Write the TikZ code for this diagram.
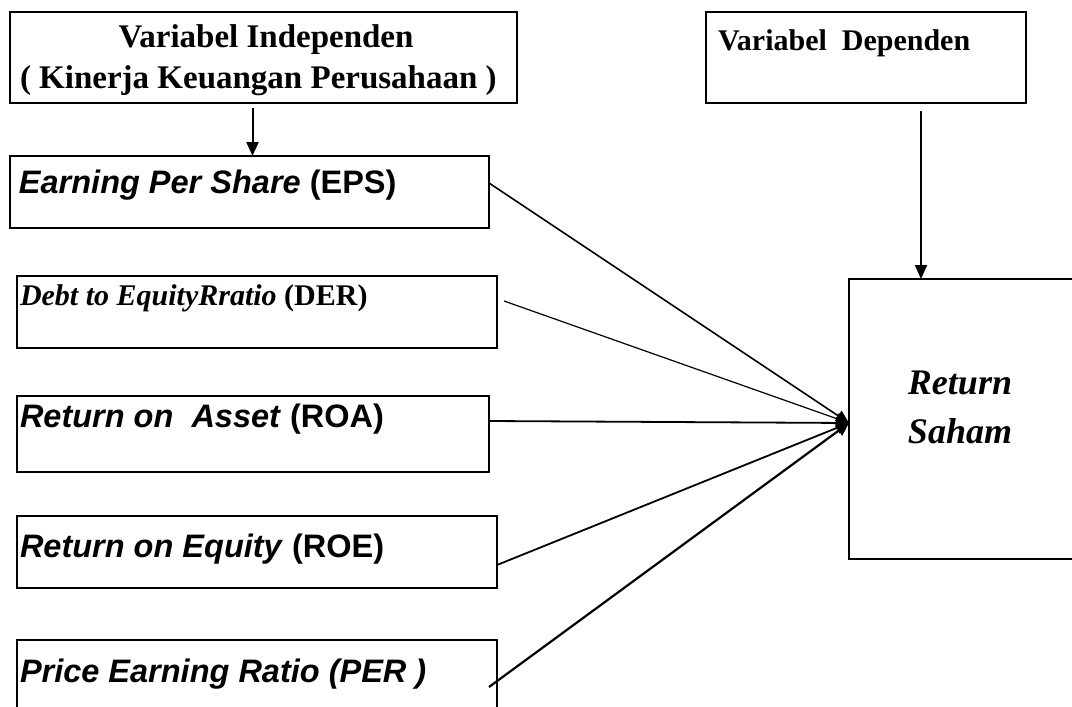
\documentclass[tikz,border=0pt]{standalone}
\usepackage{fontspec}
\setmainfont{Liberation Serif}
\newfontfamily\arialf{Liberation Sans}
\usetikzlibrary{arrows.meta}
\begin{document}
\begin{tikzpicture}[x=1pt,y=-1pt,
  box/.style={draw, line width=2pt, inner sep=0pt, outer sep=0pt, anchor=north west},
  lbl/.style={inner sep=0pt, outer sep=0pt, anchor=base west},
  seriftop/.style={font=\fontsize{33}{38}\selectfont\bfseries},
  serifdep/.style={font=\fontsize{30}{36}\selectfont\bfseries},
  serifmid/.style={font=\fontsize{30}{36}\selectfont\bfseries},
  sansbig/.style={font=\fontsize{32.5}{38}\selectfont\arialf\bfseries},
  conn/.style={line width=1.6pt, -{Triangle[length=13pt,width=12pt]}},
  vconn/.style={line width=2pt, -{Triangle[length=14pt,width=12pt]}}]
\clip (0,0) rectangle (1072,707);
% boxes
\node[box, minimum width=507pt, minimum height=91pt] (indep) at (10,12) {};
\node[box, minimum width=320pt, minimum height=91pt] (dep) at (706,12) {};
\node[box, minimum width=479pt, minimum height=72pt] (eps) at (10,156) {};
\node[box, minimum width=480pt, minimum height=72pt] (der) at (17,276) {};
\node[box, minimum width=472pt, minimum height=76pt] (roa) at (17,396) {};
\node[box, minimum width=480pt, minimum height=72pt] (roe) at (17,516) {};
\node[box, minimum width=480pt, minimum height=80pt] (per) at (17,640) {};
\node[box, minimum width=231pt, minimum height=280pt] (ret) at (849,279) {};
% texts
\node[seriftop, inner sep=0pt, anchor=base] (t1) at (266,47) {Variabel Independen};
\node[seriftop, lbl] (t2) at (20,88) {( Kinerja Keuangan Perusahaan )};
\node[serifdep, lbl] (t3) at (718,50) {Variabel\ \ Dependen};
\node[sansbig, lbl] (t4) at (19,193) {\itshape Earning Per Share\/ \upshape(EPS)};
\node[serifmid, lbl] (t5) at (20,305) {\itshape Debt to EquityRratio\/ \upshape(DER)};
\node[sansbig, lbl] (t6) at (20,427) {\itshape Return on\ \ Asset\/ \upshape(ROA)};
\node[sansbig, lbl] (t7) at (20,557) {\itshape Return on Equity\/ \upshape(ROE)};
\node[sansbig, lbl] (t8) at (20,682) {\itshape Price Earning Ratio (PER )};
\node[font=\fontsize{36}{49}\selectfont\bfseries\itshape, inner sep=0pt, align=center, anchor=base] (t9) at (960,443) {Return\\Saham};
% connectors
\coordinate (tip) at ([yshift=-4pt]ret.west);
\draw[vconn] ([xshift=-11pt,yshift=-5pt]indep.south) -- ([xshift=-11pt]indep.south |- eps.north);
\draw[vconn] ([xshift=55pt,yshift=-8pt]dep.south) -- ([xshift=55pt]dep.south |- ret.north);
\draw[conn] ([yshift=9pt]eps.east) -- (tip);
\draw[conn, line width=1.2pt] ([xshift=7pt,yshift=11pt]der.east) -- (tip);
\draw[conn, line width=1.8pt] ([yshift=13pt]roa.east) -- (tip);
\draw[conn, line width=1.8pt] ([yshift=-13pt]roe.east) -- (tip);
\draw[conn, line width=2.2pt] ([xshift=-8pt,yshift=-7pt]per.east) -- (tip);
\end{tikzpicture}
\end{document}
